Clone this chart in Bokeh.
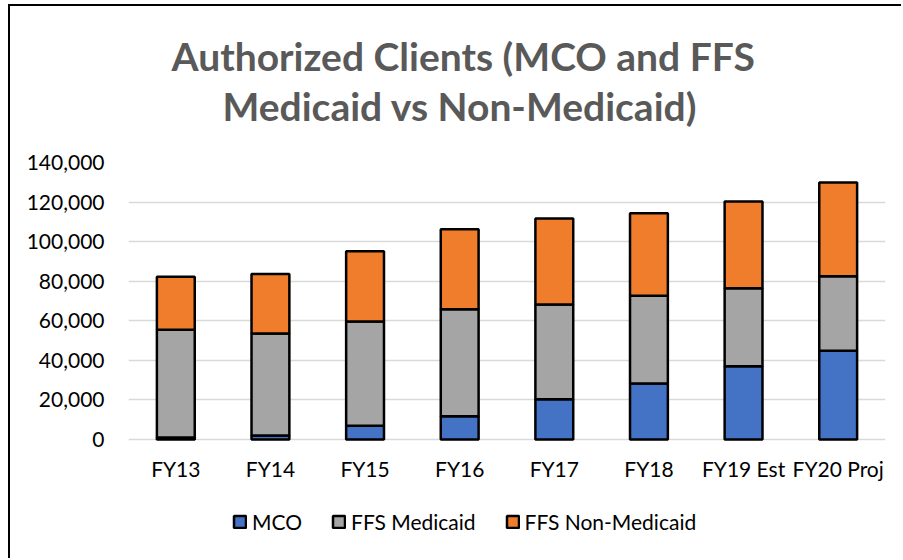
from bokeh.plotting import figure
from bokeh.models import Title, Legend, LegendItem, FixedTicker, NumeralTickFormatter, ColumnDataSource
from bokeh.embed import file_html
from bokeh.resources import INLINE

years = ["FY13", "FY14", "FY15", "FY16", "FY17", "FY18", "FY19 Est", "FY20 Proj"]
mco = [1000, 2000, 7000, 11700, 20400, 28300, 37000, 44800]
ffs_medicaid = [54500, 51600, 52600, 54100, 47800, 44400, 39400, 37700]
ffs_non_medicaid = [26800, 30100, 35500, 40500, 43500, 41700, 43900, 47400]
series = ["MCO", "FFS Medicaid", "FFS Non-Medicaid"]
colors = ["#4472C4", "#A5A5A5", "#F07D2C"]
y_ticks = [0, 20000, 40000, 60000, 80000, 100000, 120000, 140000]
title_lines = ["Authorized Clients (MCO and FFS", "Medicaid vs Non-Medicaid)"]

src = ColumnDataSource(dict(years=years, MCO=mco, **{"FFS Medicaid": ffs_medicaid, "FFS Non-Medicaid": ffs_non_medicaid}))

FONT = "Lato"
TOP_MAX = 140000
# layout: plot frame spans 162..552 px on the page; the value axis 0..140000 occupies 162..439
FRAME_TOP, ZERO_Y, FRAME_BOTTOM = 162, 439, 552
y_start = -TOP_MAX * (FRAME_BOTTOM - ZERO_Y) / (ZERO_Y - FRAME_TOP)

p = figure(x_range=years, y_range=(y_start, TOP_MAX), width=893, height=554,
           output_backend="svg", toolbar_location=None,
           min_border_left=118, min_border_right=18, min_border_top=156, min_border_bottom=8,
           styles={"border-left": "2px solid #000", "border-top": "2px solid #000",
                   "margin-left": "8px", "margin-top": "4px"})
p.outline_line_color = None
p.background_fill_color = "white"

renderers = p.vbar_stack(series, x="years", width=0.4, source=src, color=colors,
                         line_color="black", line_width=2.5)

p.xgrid.grid_line_color = None
p.ygrid.grid_line_color = "#d9d9d9"
p.ygrid.grid_line_width = 1.5
p.yaxis.ticker = FixedTicker(ticks=y_ticks)
p.yaxis.formatter = NumeralTickFormatter(format="0,0")
for ax in (p.xaxis[0], p.yaxis[0]):
    ax.axis_line_color = None
    ax.major_tick_line_color = None
    ax.minor_tick_line_color = None
    ax.major_label_text_font = FONT
    ax.major_label_text_font_size = "21px"
    ax.major_label_text_color = "#000000"
p.yaxis.major_label_standoff = 18
p.xaxis.fixed_location = 0
p.xaxis.major_label_standoff = 10

p.title.text = ""
p.add_layout(Title(text=" ", text_font_size="19px", standoff=10), "above")
for txt, off in reversed(list(zip(title_lines, [43, 94]))):
    p.add_layout(Title(text=txt, align="left", offset=off, standoff=2, text_font=FONT,
                       text_font_size="39px", text_font_style="bold", text_color="#595959"), "above")

legend = Legend(items=[LegendItem(label=s, renderers=[r]) for s, r in zip(series, renderers)],
                orientation="horizontal", location=(104, 18),
                label_text_font=FONT, label_text_font_size="21px", label_text_color="#000",
                glyph_width=15, glyph_height=15, label_standoff=5, spacing=29,
                padding=0, margin=0, border_line_color=None, background_fill_alpha=0)
p.add_layout(legend)

open("out.html", "w").write(file_html(p, INLINE))
